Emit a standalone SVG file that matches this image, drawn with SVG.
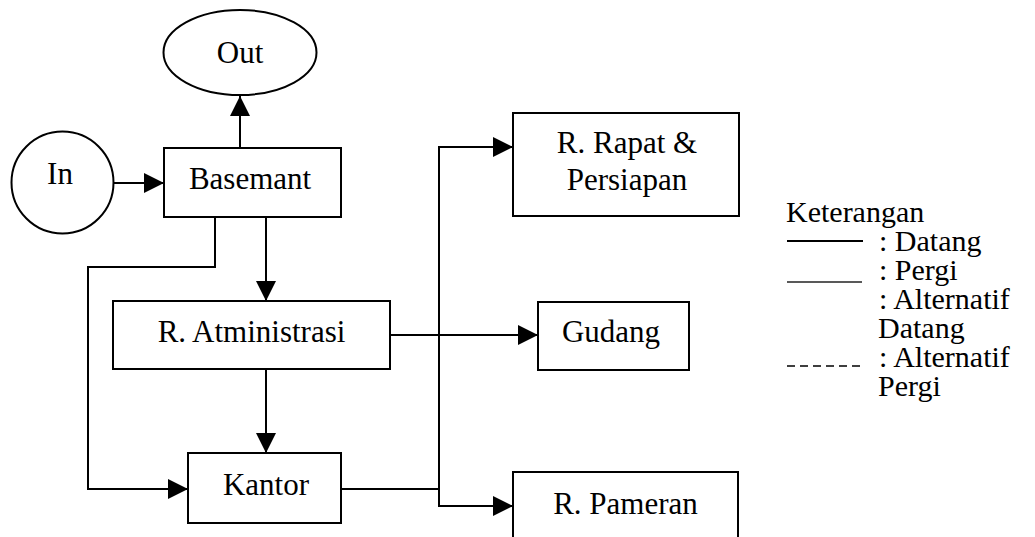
<svg xmlns="http://www.w3.org/2000/svg" width="1035" height="537" viewBox="0 0 1035 537">
  <style>
    .box { fill: #fff; stroke: #000; stroke-width: 2; }
    .lbl { font-family: "Liberation Serif", "Times New Roman", serif; font-size: 31px; fill: #000; }
    .key { font-size: 30px; }
    .mid { text-anchor: middle; }
    .wire { fill: none; stroke: #000; stroke-width: 2; }
  </style>
  <defs>
    <marker id="arrow" markerUnits="userSpaceOnUse" markerWidth="20" markerHeight="20" refX="20" refY="10" orient="auto">
      <path d="M0,0 L20,10 L0,20 Z" fill="#000"/>
    </marker>
  </defs>
  <rect width="1035" height="537" fill="#fff"/>

  <!-- connectors -->
  <g id="connectors" class="wire">
    <path d="M240,148 V96" marker-end="url(#arrow)"/>
    <path d="M113,183 H164" marker-end="url(#arrow)"/>
    <path d="M215,217 V267 H88 V489 H188" marker-end="url(#arrow)"/>
    <path d="M266,217 V301" marker-end="url(#arrow)"/>
    <path d="M266,369 V453" marker-end="url(#arrow)"/>
    <path d="M390,335 H538" marker-end="url(#arrow)"/>
    <path d="M341,489 H439"/>
    <path d="M439,327 V147 H513" marker-end="url(#arrow)"/>
    <path d="M439,327 V506 H513" marker-end="url(#arrow)"/>
  </g>

  <!-- nodes -->
  <g id="out">
    <ellipse class="box" cx="240" cy="52.5" rx="76.5" ry="42.5"/>
    <text class="lbl mid" x="240" y="63">Out</text>
  </g>
  <g id="in">
    <circle class="box" cx="62.5" cy="182.5" r="51"/>
    <text class="lbl mid" x="60" y="184">In</text>
  </g>
  <g id="basemant">
    <rect class="box" x="164" y="148" width="177" height="69"/>
    <text class="lbl mid" x="250" y="189">Basemant</text>
  </g>
  <g id="atministrasi">
    <rect class="box" x="113" y="301" width="277" height="68"/>
    <text class="lbl mid" x="251.5" y="342">R. Atministrasi</text>
  </g>
  <g id="kantor">
    <rect class="box" x="188" y="453" width="153" height="70"/>
    <text class="lbl mid" x="266" y="495">Kantor</text>
  </g>
  <g id="rapat">
    <rect class="box" x="513" y="113" width="226" height="103"/>
    <text class="lbl mid" x="627" y="153">R. Rapat &amp;</text>
    <text class="lbl mid" x="627" y="190">Persiapan</text>
  </g>
  <g id="gudang">
    <rect class="box" x="538" y="302" width="151" height="68"/>
    <text class="lbl mid" x="611" y="342">Gudang</text>
  </g>
  <g id="pameran">
    <rect class="box" x="513" y="472" width="225" height="80"/>
    <text class="lbl mid" x="625.5" y="514">R. Pameran</text>
  </g>

  <!-- legend -->
  <g id="legend">
    <text class="lbl key" x="786" y="222">Keterangan</text>
    <line x1="787" y1="241" x2="863" y2="241" stroke="#000" stroke-width="2"/>
    <text class="lbl key" x="879" y="251">: Datang</text>
    <line x1="787" y1="282" x2="862" y2="282" stroke="#222" stroke-width="1.5"/>
    <text class="lbl key" x="879" y="280">: Pergi</text>
    <text class="lbl key" x="879" y="309">: Alternatif</text>
    <text class="lbl key" x="878" y="338">Datang</text>
    <line x1="787" y1="366" x2="861" y2="366" stroke="#000" stroke-width="1.5" stroke-dasharray="8,5"/>
    <text class="lbl key" x="879" y="367">: Alternatif</text>
    <text class="lbl key" x="878" y="396">Pergi</text>
  </g>
</svg>
